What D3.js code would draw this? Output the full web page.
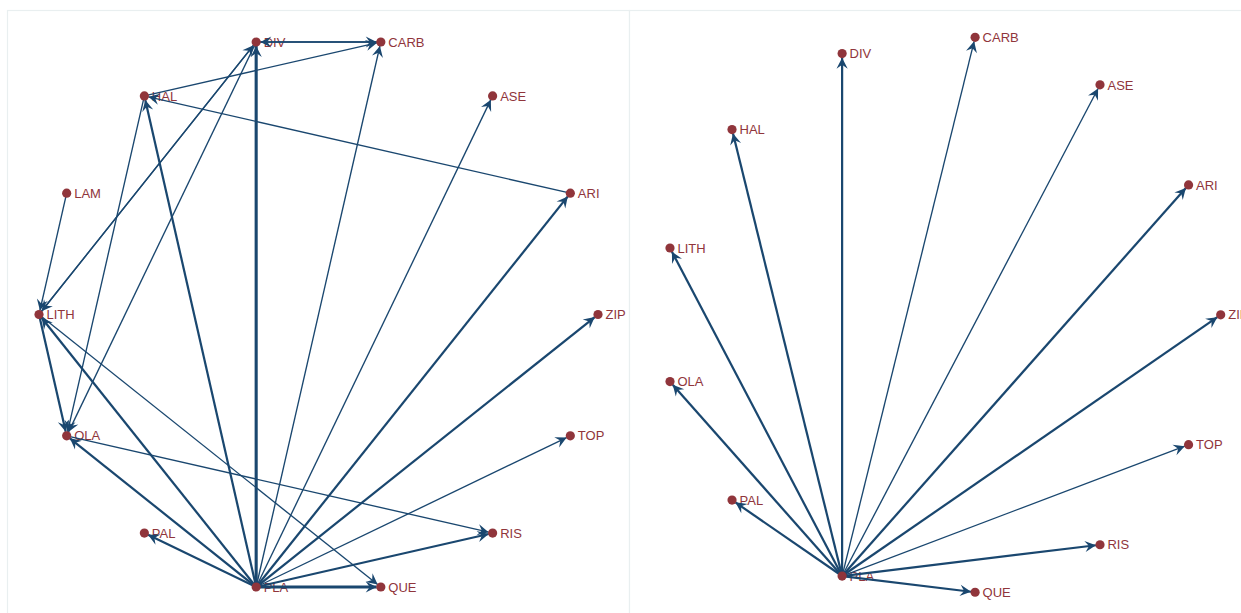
<!DOCTYPE html>
<html>
<head>
<meta charset="utf-8">
<script src="https://cdn.jsdelivr.net/npm/d3@7"></script>
<style>
  html, body { margin: 0; padding: 0; background: #ffffff; }
  svg { display: block; }
  .lbl { font-family: "Liberation Sans", Arial, Helvetica, sans-serif; font-size: 13px; }
</style>
</head>
<body>
<svg id="chart" width="1241" height="613"></svg>
<script>
// ---- Network 1: full graph, circle layout (14 nodes) ----
const leftNodes = ["ZIP","ARI","ASE","CARB","DIV","HAL","LAM","LITH","OLA","PAL","PLA","QUE","RIS","TOP"];
const leftX = [1, 0.901, 0.623, 0.223, -0.223, -0.623, -0.901, -1, -0.901, -0.623, -0.223, 0.223, 0.623, 0.901];
const leftY = [0, 0.434, 0.782, 0.975, 0.975, 0.782, 0.434, 0, -0.434, -0.782, -0.975, -0.975, -0.782, -0.434];
const leftFrom   = ["PLA","PLA","PLA","PLA","PLA","PLA","PLA","PLA","PLA","PLA","PLA","PLA","DIV","CARB","HAL","ARI","LAM","DIV","LITH","DIV","HAL","LITH","LITH","OLA"];
const leftTo     = ["DIV","CARB","ASE","ARI","ZIP","TOP","RIS","QUE","PAL","OLA","LITH","HAL","CARB","DIV","CARB","HAL","LITH","LITH","DIV","OLA","OLA","OLA","QUE","RIS"];
const leftWeight = [3, 1, 1, 2, 2, 1, 2, 3, 2, 2, 2, 2, 1, 1, 1, 1, 1, 1, 1, 1, 1, 2, 1, 1];

// ---- Network 2: ties sent by PLA, circle layout (13 nodes) ----
const rightNodes = ["ZIP","ARI","ASE","CARB","DIV","HAL","LITH","OLA","PAL","PLA","QUE","RIS","TOP"];
const rightX = [1, 0.885, 0.568, 0.121, -0.355, -0.749, -0.971, -0.971, -0.749, -0.355, 0.121, 0.568, 0.885];
const rightY = [0, 0.465, 0.823, 0.993, 0.935, 0.663, 0.239, -0.239, -0.663, -0.935, -0.993, -0.823, -0.465];
const rightFrom   = ["PLA","PLA","PLA","PLA","PLA","PLA","PLA","PLA","PLA","PLA","PLA","PLA"];
const rightTo     = ["DIV","CARB","ASE","ARI","ZIP","TOP","RIS","QUE","PAL","OLA","LITH","HAL"];
const rightWeight = [2, 1, 1, 2, 2, 1, 2, 2, 2, 2, 2, 2];

const edgeColor = "#1a476f";
const nodeColor = "#90353b";
const frameColor = "#e9eff0";

const svg = d3.select("#chart");

// stroke width per tie weight
const widthScale = d3.scaleLinear().domain([1, 3]).range([1.35, 3.1]);

// barbed arrowhead, sized in user space
const defs = svg.append("defs");
defs.append("marker")
  .attr("id", "arrow")
  .attr("markerUnits", "userSpaceOnUse")
  .attr("viewBox", "-12 -7 13 14")
  .attr("refX", 0).attr("refY", 0)
  .attr("markerWidth", 13).attr("markerHeight", 14)
  .attr("orient", "auto")
  .append("path")
  .attr("d", "M0,0 L-11,-5.6 L-7,0 L-11,5.6 Z")
  .attr("fill", edgeColor);

function drawPanel(opts) {
  const g = svg.append("g");
  // panel frame
  g.append("rect")
    .attr("x", opts.left + 0.5).attr("y", opts.top + 0.5)
    .attr("width", opts.width).attr("height", opts.height)
    .attr("fill", "#ffffff")
    .attr("stroke", frameColor).attr("stroke-width", 1.2);

  const x = d3.scaleLinear().domain([-1, 1]).range([opts.cx - opts.r, opts.cx + opts.r]);
  const y = d3.scaleLinear().domain([-1, 1]).range([opts.cy + opts.r, opts.cy - opts.r]);

  const nodes = opts.names.map((n, i) => ({ name: n, px: x(opts.xs[i]), py: y(opts.ys[i]) }));
  const byName = new Map(nodes.map(d => [d.name, d]));
  const edges = opts.from.map((f, i) => ({ s: byName.get(f), t: byName.get(opts.to[i]), w: opts.weight[i] }));

  // labels
  g.selectAll("text.lbl").data(nodes).join("text")
    .attr("class", "lbl")
    .attr("x", d => d.px + 7.5)
    .attr("y", d => d.py)
    .attr("dy", "0.36em")
    .attr("fill", nodeColor)
    .text(d => d.name);

  // ties, ending at the edge of the target dot
  const rNode = 4.6;
  g.selectAll("line.edge").data(edges).join("line")
    .attr("class", "edge")
    .attr("x1", d => d.s.px).attr("y1", d => d.s.py)
    .attr("x2", d => {
      const dx = d.t.px - d.s.px, dy = d.t.py - d.s.py, L = Math.hypot(dx, dy);
      return d.t.px - dx / L * (rNode - 0.5);
    })
    .attr("y2", d => {
      const dx = d.t.px - d.s.px, dy = d.t.py - d.s.py, L = Math.hypot(dx, dy);
      return d.t.py - dy / L * (rNode - 0.5);
    })
    .attr("stroke", edgeColor)
    .attr("stroke-width", d => widthScale(d.w))
    .attr("marker-end", "url(#arrow)");

  // nodes
  g.selectAll("circle.node").data(nodes).join("circle")
    .attr("class", "node")
    .attr("cx", d => d.px).attr("cy", d => d.py)
    .attr("r", rNode)
    .attr("fill", nodeColor);
}

drawPanel({ left: 7, top: 10, width: 622, height: 640, cx: 318.5, cy: 314.5, r: 279.5,
  names: leftNodes, xs: leftX, ys: leftY, from: leftFrom, to: leftTo, weight: leftWeight });

drawPanel({ left: 629, top: 10, width: 622, height: 640, cx: 941.3, cy: 314.8, r: 279.4,
  names: rightNodes, xs: rightX, ys: rightY, from: rightFrom, to: rightTo, weight: rightWeight });
</script>
</body>
</html>
